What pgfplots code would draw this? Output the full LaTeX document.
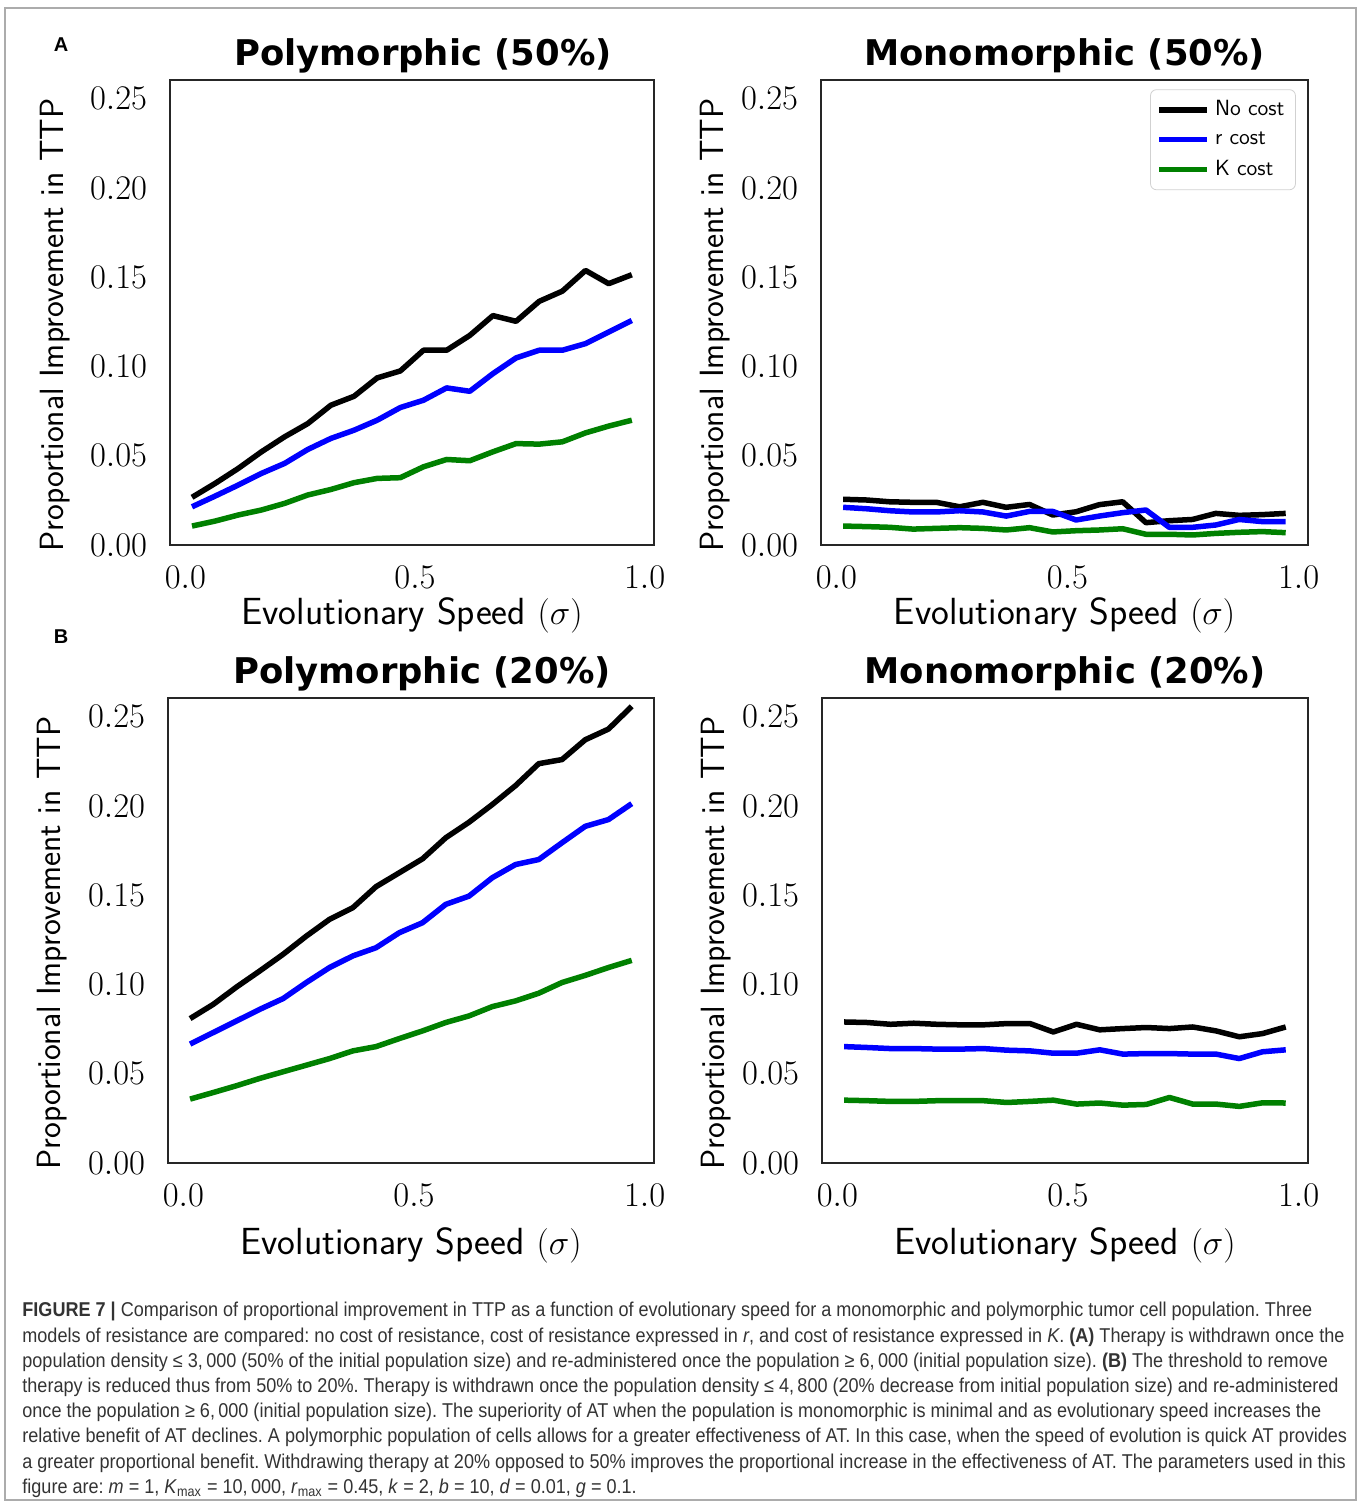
\documentclass[border=0pt]{standalone}
\usepackage{fontspec}
\usepackage{pgfplots}
\pgfplotsset{compat=1.18}
\usepackage{pgfplotstable}
\newfontfamily\capfont[FakeStretch=0.903]{Liberation Sans}
\newfontfamily\titlefont{DejaVu Sans}
\newfontfamily\panelfont{Liberation Sans}
\definecolor{mplgreen}{HTML}{008000}
\definecolor{mplblue}{HTML}{0000FF}
\definecolor{capgray}{HTML}{333333}

\pgfplotstableread{
x a b c
0.0145 0.0267 0.0214 0.0106
0.0649 0.0345 0.0274 0.0134
0.1153 0.0429 0.0336 0.0168
0.1657 0.0522 0.0401 0.0196
0.2161 0.0606 0.0457 0.0233
0.2665 0.0680 0.0535 0.0280
0.3169 0.0783 0.0597 0.0311
0.3673 0.0833 0.0643 0.0349
0.4177 0.0936 0.0699 0.0373
0.4681 0.0975 0.0770 0.0377
0.5185 0.1091 0.0811 0.0438
0.5689 0.1091 0.0880 0.0479
0.6193 0.1174 0.0861 0.0472
0.6697 0.1285 0.0960 0.0522
0.7201 0.1253 0.1048 0.0568
0.7705 0.1365 0.1091 0.0565
0.8209 0.1422 0.1091 0.0578
0.8713 0.1538 0.1128 0.0628
0.9217 0.1464 0.1193 0.0666
0.9721 0.1514 0.1258 0.0699
}\polyA

\pgfplotstableread{
x a b c
0.0145 0.0256 0.0211 0.0106
0.0649 0.0252 0.0203 0.0103
0.1153 0.0242 0.0192 0.0099
0.1657 0.0239 0.0185 0.0089
0.2161 0.0239 0.0185 0.0093
0.2665 0.0214 0.0192 0.0097
0.3169 0.0239 0.0185 0.0093
0.3673 0.0211 0.0162 0.0084
0.4177 0.0227 0.0188 0.0097
0.4681 0.0168 0.0188 0.0073
0.5185 0.0186 0.0140 0.0080
0.5689 0.0226 0.0162 0.0084
0.6193 0.0242 0.0181 0.0091
0.6697 0.0125 0.0196 0.0060
0.7201 0.0136 0.0099 0.0060
0.7705 0.0143 0.0099 0.0056
0.8209 0.0177 0.0112 0.0065
0.8713 0.0166 0.0143 0.0071
0.9217 0.0170 0.0131 0.0075
0.9721 0.0177 0.0131 0.0069
}\monoA

\pgfplotstableread{
x a b c
0.0145 0.0809 0.0666 0.0358
0.0649 0.0889 0.0731 0.0395
0.1153 0.0986 0.0796 0.0433
0.1657 0.1076 0.0861 0.0474
0.2161 0.1169 0.0921 0.0511
0.2665 0.1271 0.1011 0.0548
0.3169 0.1365 0.1095 0.0585
0.3673 0.1430 0.1160 0.0628
0.4177 0.1548 0.1206 0.0652
0.4681 0.1626 0.1290 0.0697
0.5185 0.1704 0.1346 0.0740
0.5689 0.1822 0.1449 0.0787
0.6193 0.1909 0.1495 0.0824
0.6697 0.2008 0.1598 0.0876
0.7201 0.2114 0.1672 0.0908
0.7705 0.2237 0.1700 0.0951
0.8209 0.2260 0.1794 0.1011
0.8713 0.2371 0.1886 0.1051
0.9217 0.2431 0.1924 0.1095
0.9721 0.2558 0.2013 0.1135
}\polyB

\pgfplotstableread{
x a b c
0.0145 0.0790 0.0652 0.0352
0.0649 0.0787 0.0647 0.0349
0.1153 0.0777 0.0641 0.0345
0.1657 0.0783 0.0641 0.0345
0.2161 0.0777 0.0638 0.0349
0.2665 0.0774 0.0638 0.0349
0.3169 0.0774 0.0641 0.0349
0.3673 0.0781 0.0632 0.0339
0.4177 0.0781 0.0628 0.0345
0.4681 0.0734 0.0615 0.0352
0.5185 0.0777 0.0615 0.0330
0.5689 0.0746 0.0634 0.0336
0.6193 0.0753 0.0610 0.0324
0.6697 0.0759 0.0613 0.0328
0.7201 0.0753 0.0613 0.0367
0.7705 0.0762 0.0610 0.0330
0.8209 0.0740 0.0610 0.0330
0.8713 0.0707 0.0585 0.0317
0.9217 0.0725 0.0623 0.0337
0.9721 0.0762 0.0634 0.0336
}\monoB

\pgfplotsset{
  panel/.style={
    scale only axis,
    height=232.5pt,
    xmin=-0.0334, xmax=1.0204, ymin=0, ymax=0.2605,
    xtick={0,0.5,1}, ytick={0,0.05,0.1,0.15,0.2,0.25},
    major tick length=0pt,
    axis line style={draw=black!85, line width=1pt},
    tick label style={font=\fontsize{16}{16}\selectfont, inner sep=0pt},
    x tick label style={/pgf/number format/fixed, /pgf/number format/fixed zerofill, /pgf/number format/precision=1, yshift=-10.5pt},
    y tick label style={/pgf/number format/fixed, /pgf/number format/fixed zerofill, /pgf/number format/precision=2, xshift=-11.3pt},
    xlabel={Evolutionary Speed $(\sigma)$},
    ylabel={Proportional Improvement in TTP},
    title style={font=\titlefont\bfseries\fontsize{17.7}{18}\selectfont, at={(axis description cs:0.5,1)}, anchor=base, yshift=1pt},
    every axis plot/.append style={line width=2.75pt, line join=round},
    legend image code/.code={\draw[#1] (0pt,0pt) -- (24pt,0pt);},
  },
  toprow/.style={every axis x label/.style={at={(axis description cs:0.5,-0.152)}, anchor=center, inner sep=0pt, font=\sffamily\fontsize{18.9}{19}\selectfont}},
  botrow/.style={every axis x label/.style={at={(axis description cs:0.5,-0.178)}, anchor=center, inner sep=0pt, font=\sffamily\fontsize{18.9}{19}\selectfont}},
  leftcol/.style={every axis y label/.style={at={(axis description cs:-0.2376,0.473)}, rotate=90, anchor=center, font=\sffamily\fontsize{16.8}{17}\selectfont}},
  rightcol/.style={every axis y label/.style={at={(axis description cs:-0.2177,0.473)}, rotate=90, anchor=center, font=\sffamily\fontsize{16.8}{17}\selectfont}},
}

\begin{document}
\frenchspacing
\begin{tikzpicture}
\useasboundingbox (0,0) rectangle (679pt,751pt);
\draw[gray!65, line width=0.8pt] (2.5pt,1pt) rectangle (678pt,747pt);

\node[font=\panelfont\bfseries\fontsize{10}{12}\selectfont] at (30.5pt,728.5pt) {A};
\node[font=\panelfont\bfseries\fontsize{10}{12}\selectfont] at (30.5pt,432.5pt) {B};

% Top left
\begin{axis}[panel, toprow, leftcol, at={(85pt,478.5pt)}, anchor=south west, width=242pt,
  title={Polymorphic (50\%)}, title style={xshift=5.5pt}]
\addplot[black] table[x=x,y=a] {\polyA};
\addplot[mplblue] table[x=x,y=b] {\polyA};
\addplot[mplgreen] table[x=x,y=c] {\polyA};
\end{axis}

% Top right
\begin{axis}[panel, toprow, rightcol, at={(410.5pt,478.5pt)}, anchor=south west, width=243.5pt,
  title={Monomorphic (50\%)},
  legend style={at={(axis description cs:0.975,0.98)}, anchor=north east, draw=black!18, rounded corners=3pt, fill=white,
    font=\sffamily\fontsize{11}{13}\selectfont, row sep=1.5pt, inner sep=3pt,
    nodes={inner sep=2.5pt}},
  legend cell align=left]
\addplot[black] table[x=x,y=a] {\monoA};
\addplot[mplblue] table[x=x,y=b] {\monoA};
\addplot[mplgreen] table[x=x,y=c] {\monoA};
\legend{No cost, r cost, K cost}
\end{axis}

% Bottom left
\begin{axis}[panel, botrow, leftcol, at={(84pt,169.5pt)}, anchor=south west, width=243pt,
  title={Polymorphic (20\%)}, title style={xshift=5.5pt}]
\addplot[black] table[x=x,y=a] {\polyB};
\addplot[mplblue] table[x=x,y=b] {\polyB};
\addplot[mplgreen] table[x=x,y=c] {\polyB};
\end{axis}

% Bottom right
\begin{axis}[panel, botrow, rightcol, at={(411pt,169.5pt)}, anchor=south west, width=243pt,
  title={Monomorphic (20\%)}]
\addplot[black] table[x=x,y=a] {\monoB};
\addplot[mplblue] table[x=x,y=b] {\monoB};
\addplot[mplgreen] table[x=x,y=c] {\monoB};
\end{axis}

% Caption
\begin{scope}[every node/.style={anchor=base west, inner sep=0pt, text=capgray, font=\capfont\fontsize{10}{12}\selectfont\frenchspacing}]
\node at (11pt,92.5pt) {\textbf{FIGURE 7 |} Comparison of proportional improvement in TTP as a function of evolutionary speed for a monomorphic and polymorphic tumor cell population. Three};
\node at (11pt,79.9pt) {models of resistance are compared: no cost of resistance, cost of resistance expressed in \textit{r}, and cost of resistance expressed in \textit{K}. \textbf{(A)} Therapy is withdrawn once the};
\node at (11pt,67.3pt) {population density ≤ 3,\,000 (50\% of the initial population size) and re-administered once the population ≥ 6,\,000 (initial population size). \textbf{(B)} The threshold to remove};
\node at (11pt,54.7pt) {therapy is reduced thus from 50\% to 20\%. Therapy is withdrawn once the population density ≤ 4,\,800 (20\% decrease from initial population size) and re-administered};
\node at (11pt,42.1pt) {once the population ≥ 6,\,000 (initial population size). The superiority of AT when the population is monomorphic is minimal and as evolutionary speed increases the};
\node at (11pt,29.5pt) {relative benefit of AT declines. A polymorphic population of cells allows for a greater effectiveness of AT. In this case, when the speed of evolution is quick AT provides};
\node at (11pt,16.9pt) {a greater proportional benefit. Withdrawing therapy at 20\% opposed to 50\% improves the proportional increase in the effectiveness of AT. The parameters used in this};
\node at (11pt,4.3pt) {figure are: \textit{m} = 1, \textit{K}\textsubscript{max} = 10,\,000, \textit{r}\textsubscript{max} = 0.45, \textit{k} = 2, \textit{b} = 10, \textit{d} = 0.01, \textit{g} = 0.1.};
\end{scope}
\end{tikzpicture}
\end{document}
